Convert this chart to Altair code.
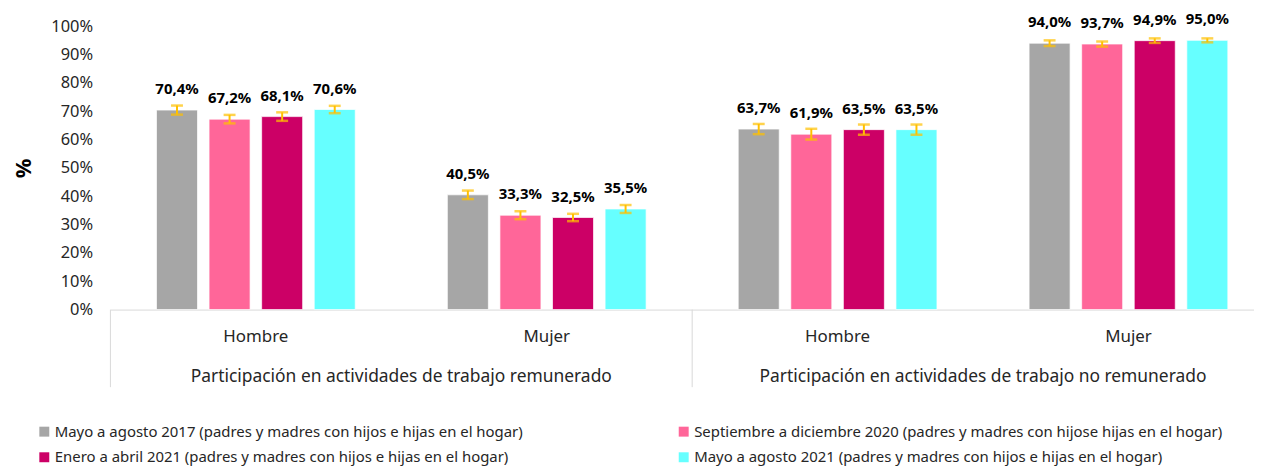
import altair as alt
import pandas as pd

# ---------------- data ----------------
grupos = ["Participación en actividades de trabajo remunerado",
          "Participación en actividades de trabajo no remunerado"]
sexos = ["Hombre", "Mujer"]
claves = ["R-Hombre", "R-Mujer", "N-Hombre", "N-Mujer"]

periodos = [
    "Mayo a agosto 2017 (padres y madres con hijos e hijas en el hogar)",
    "Septiembre a diciembre 2020 (padres y madres con hijose hijas en el hogar)",
    "Enero a abril 2021 (padres y madres con hijos e hijas en el hogar)",
    "Mayo a agosto 2021 (padres y madres con hijos e hijas en el hogar)",
]
colores = ["#A6A6A6", "#FF6699", "#CC0066", "#66FFFF"]

v2017 = [70.4, 40.5, 63.7, 94.0]
v2020 = [67.2, 33.3, 61.9, 93.7]
v2021a = [68.1, 32.5, 63.5, 94.9]
v2021b = [70.6, 35.5, 63.5, 95.0]

e2017 = [1.6, 1.5, 1.8, 1.0]
e2020 = [1.5, 1.4, 1.9, 0.9]
e2021a = [1.5, 1.3, 1.8, 0.8]
e2021b = [1.3, 1.4, 1.8, 0.7]

y_ticks = list(range(0, 101, 10))

# ---------------- tables ----------------
rows = []
for p, vals, errs in zip(periodos, [v2017, v2020, v2021a, v2021b],
                         [e2017, e2020, e2021a, e2021b]):
    for k, v, e in zip(claves, vals, errs):
        rows.append({"clave": k, "periodo": p, "valor": v,
                     "lo": v - e, "hi": v + e})
df = pd.DataFrame(rows)

div_df = pd.DataFrame({"clave": ["R-Hombre", "N-Hombre"]})
div_end_df = pd.DataFrame({"clave": ["N-Mujer"]})
grp_df = pd.DataFrame({"clave": ["R-Mujer", "N-Mujer"], "grupo": grupos})

# legend is filled column by column: reorder so rows read as in the original
leg_order = [0, 2, 1, 3]
leg_domain = [periodos[i] for i in leg_order]
leg_range = [colores[i] for i in leg_order]

W = 1146
H = 285
XR = 1170  # category range runs slightly past the visible right edge, as in the original
FONT = "Noto Sans"
TXT = "#262626"

xscale = alt.Scale(domain=claves, paddingInner=0, paddingOuter=0, range=[0, XR])
xoff = alt.XOffset("periodo:N", sort=periodos,
                   scale=alt.Scale(domain=periodos, paddingInner=0.22, paddingOuter=0.876))
yscale = alt.Scale(domain=[0, 100], nice=False)

x_axis = alt.Axis(labelExpr="split(datum.label, '-')[1]", labelAngle=0,
                  ticks=False, domainColor="#D9D9D9", domainWidth=1,
                  labelFontSize=17, labelColor=TXT, labelFont=FONT,
                  labelPadding=19)
y_axis = alt.Axis(values=y_ticks, labelExpr="datum.value + '%'", grid=False,
                  domain=False, ticks=False, labelFontSize=16.5,
                  labelOverlap=False, labelFlush=False,
                  labelColor=TXT, labelFont=FONT, labelPadding=18,
                  titleFontSize=22, titleFont=FONT, titleFontWeight="bold",
                  titleColor="black", titlePadding=15)


def xe(**kw):
    return alt.X("clave:N", scale=xscale, sort=claves, axis=x_axis, title=None, **kw)


def ye(field):
    return alt.Y(field, scale=yscale, axis=y_axis, title="%")


bars = alt.Chart(df).mark_bar(stroke="white", strokeWidth=1, strokeOpacity=0.7).encode(
    x=xe(),
    xOffset=xoff,
    y=ye("valor:Q"),
    color=alt.Color("periodo:N",
                    scale=alt.Scale(domain=leg_domain, range=leg_range),
                    legend=alt.Legend(title=None, orient="none", legendX=-74, legendY=400,
                                      padding=0, columns=2, symbolType="square",
                                      symbolSize=100, symbolStrokeWidth=0,
                                      labelFontSize=15, labelFont=FONT, labelColor=TXT,
                                      labelLimit=700, columnPadding=154, rowPadding=10,
                                      labelOffset=3)),
)

err_rule = alt.Chart(df).mark_rule(color="#FFC000", strokeWidth=2).encode(
    x=xe(), xOffset=xoff, y=ye("lo:Q"), y2="hi:Q",
)
err_lo = alt.Chart(df).mark_tick(color="#FFC000", thickness=2.5, size=12,
                                 orient="horizontal").encode(
    x=xe(), xOffset=xoff, y=ye("lo:Q"),
)
err_hi = alt.Chart(df).mark_tick(color="#FFC000", thickness=2.5, size=12,
                                 orient="horizontal").encode(
    x=xe(), xOffset=xoff, y=ye("hi:Q"),
)

labels = alt.Chart(df).mark_text(dy=-21, fontSize=15, fontWeight="bold",
                                 font=FONT, color="black").encode(
    x=xe(), xOffset=xoff, y=ye("valor:Q"),
    text=alt.Text("txt:N"),
).transform_calculate(txt="replace(format(datum.valor, '.1f'), '.', ',') + '%'")

dividers = alt.Chart(div_df).mark_rule(color="#D9D9D9", strokeWidth=1).encode(
    x=xe(bandPosition=0),
    y=alt.value(H), y2=alt.value(H + 78),
)
divider_end = alt.Chart(div_end_df).mark_rule(color="#D9D9D9", strokeWidth=1).encode(
    x=xe(bandPosition=1),
    y=alt.value(H), y2=alt.value(H + 78),
)
grp_text = alt.Chart(grp_df).mark_text(fontSize=17.5, font=FONT, color=TXT,
                                       baseline="middle").encode(
    x=xe(bandPosition=0),
    y=alt.value(H + 68),
    text="grupo:N",
)

chart = alt.layer(bars, err_rule, err_lo, err_hi, labels, dividers, divider_end,
                  grp_text).properties(
    width=W, height=H,
    autosize=alt.AutoSizeParams(type="none"),
    padding={"left": 103, "top": 17, "right": 4, "bottom": 157},
).configure_view(stroke=None)

chart.save("out.html", embed_options={"renderer": "svg", "actions": False})
